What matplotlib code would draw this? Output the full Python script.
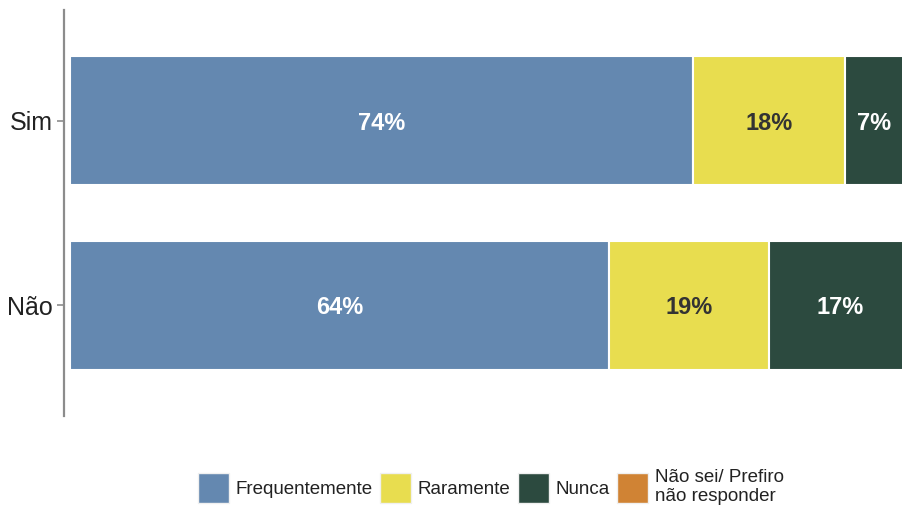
import matplotlib.pyplot as plt
from matplotlib.patches import Patch

plt.rcParams['font.family'] = ['Liberation Sans', 'DejaVu Sans']

categories = ["Não", "Sim"]
series = ["Frequentemente", "Raramente", "Nunca", "Não sei/ Prefiro\nnão responder"]
frequentemente = [64, 74]
raramente = [19, 18]
nunca = [17, 7]
nao_sei = [0, 1]
values = [frequentemente, raramente, nunca, nao_sei]

colors = ["#6488B0", "#E8DD4F", "#2C4A3F", "#D08334"]
label_colors = ["white", "#333333", "white", "white"]

fig = plt.figure(figsize=(9.02, 5.09), dpi=100)
# panel runs off the right edge like in the original export
ax = fig.add_axes([64 / 902, 1 - 416 / 509, (912 - 64) / 902, 406 / 509])

ypos = list(range(len(categories)))
left = [0.0] * len(categories)
for vals, col, tcol in zip(values, colors, label_colors):
    ax.barh(ypos, vals, left=left, height=0.7, color=col, edgecolor="white", linewidth=1.5)
    for y, v, l in zip(ypos, vals, left):
        if v >= 5:
            ax.text(l + v / 2, y, f"{v}%", ha="center", va="center_baseline",
                    color=tcol, fontsize=17, fontweight="bold")
    left = [l + v for l, v in zip(left, vals)]

ax.set_xlim(-0.7, 100)
ax.set_ylim(-0.6, 1.6)
ax.set_yticks(ypos)
ax.set_yticklabels(categories, fontsize=18, color="#222222")
ax.set_xticks([])
for s in ["top", "right", "bottom"]:
    ax.spines[s].set_visible(False)
ax.spines["left"].set_color("#8c8c8c")
ax.spines["left"].set_linewidth(1.6)
ax.tick_params(axis="y", length=5, width=1.2, color="#8c8c8c", pad=3)

handles = [Patch(facecolor=c, edgecolor="#f0f0f0", linewidth=1) for c in colors]
fig.legend(handles, series, loc="center", bbox_to_anchor=(491 / 902, 1 - 487 / 509),
           ncol=4, frameon=False, fontsize=13.5, handlelength=1.65, handleheight=2.1,
           handletextpad=0.35, columnspacing=0.4, labelcolor="#222222")

fig.savefig("out.png", dpi=100)
